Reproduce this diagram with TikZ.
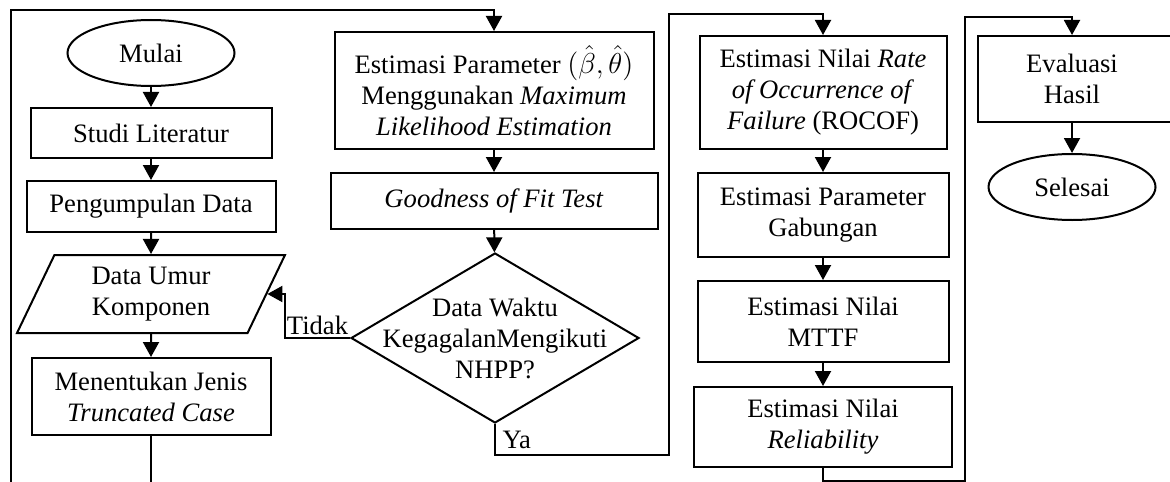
\documentclass[tikz,border=0pt]{standalone}
\usepackage{fontspec}
\setmainfont{Liberation Serif}
\usetikzlibrary{arrows.meta}
\usetikzlibrary{shapes.geometric}

\begin{document}
\begin{tikzpicture}[x=0.5pt,y=-0.5pt,
  every node/.style={font=\fontsize{13.3}{15.5}\selectfont, align=center},
  box/.style={draw, line width=1pt, rectangle, inner sep=2pt},
  term/.style={draw, line width=1pt, ellipse, minimum width=83.5pt, minimum height=33pt, inner sep=0pt},
  io/.style={draw, line width=1pt, trapezium, trapezium left angle=55.3, trapezium right angle=124.7,
    trapezium stretches body, minimum width=134pt, minimum height=39pt, inner sep=0pt},
  decision/.style={draw, line width=1pt, diamond, minimum width=144pt, minimum height=85pt, inner sep=0pt},
  flow/.style={line width=1pt, -{Triangle[length=7.5pt,width=8pt]}}]
  \useasboundingbox (0,0) rectangle (1170,481);
  \clip (0,0) rectangle (1170,481);

  \node[term] (mulai) at (151,53) {Mulai};
  \node[box, minimum width=120.5pt, minimum height=25pt] (studi) at (151,133) {Studi Literatur};
  \node[box, minimum width=124.5pt, minimum height=25.5pt] (kumpul) at (151,206.5) {Pengumpulan Data};
  \node[io] (umur) at (151,294) {Data Umur\\Komponen};
  \node[box, minimum width=119.5pt, minimum height=38.5pt] (jenis) at (151,396.5) {Menentukan Jenis\\\textit{Truncated Case}};

  \node[box, minimum width=159.5pt, minimum height=58.5pt] (mle) at (494,90.5)
    {Estimasi Parameter $(\hat{\beta},\hat{\theta})$\\Menggunakan \textit{Maximum}\\\textit{Likelihood Estimation}};
  \node[box, minimum width=163.5pt, minimum height=28pt] (gof) at (494,201) {\textit{Goodness of Fit Test}};
  \node[decision] (cek) at (495,338) {};
  \node (cektxt) at (cek) {Data Waktu\\KegagalanMengikuti\\NHPP?};

  \node[box, minimum width=123.5pt, minimum height=56.5pt] (rocof) at (823,92.5)
    {Estimasi Nilai \textit{Rate}\\\textit{of Occurrence of}\\\textit{Failure} (ROCOF)};
  \node[box, minimum width=125.5pt, minimum height=42pt] (gabung) at (823,215) {Estimasi Parameter\\Gabungan};
  \node[box, minimum width=125.5pt, minimum height=40.5pt] (mttf) at (823,321.5) {Estimasi Nilai\\MTTF};
  \node[box, minimum width=129pt, minimum height=40pt] (reli) at (823,427) {Estimasi Nilai\\\textit{Reliability}};

  \node[box, minimum width=103pt, minimum height=43pt] (eval) at (1081,79) {};
  \node (evaltxt) at (1072,79) {Evaluasi\\Hasil};
  \node[term] (selesai) at (1072,187) {Selesai};

  \coordinate (bl) at (11,500);
  \coordinate (tl) at (11,10);
  \coordinate (ya) at (669,14);
  \coordinate (yb) at (965,17);

  \draw[flow] (mulai) -- (studi);
  \draw[flow] (studi) -- (kumpul);
  \draw[flow] (kumpul) -- (umur);
  \draw[flow] (umur) -- (jenis);
  \draw[flow] (jenis.south) |- (bl) -- (tl) -| (mle.north);
  \draw[flow] (mle) -- (gof);
  \draw[flow] (gof) -- (cek);
  \draw[flow] (cek.west) -- node[above, inner sep=1pt] (tidak) {Tidak} ++(-65,0) |- (umur.east);
  \draw[flow] (cek.south) -- node[right] (yalbl) {Ya} ++(0,31) -| (ya) -| (rocof.north);
  \draw[flow] (rocof) -- (gabung);
  \draw[flow] (gabung) -- (mttf);
  \draw[flow] (mttf) -- (reli);
  \draw[flow] (reli.south) -- ++(0,13) -| (yb) -| (eval.north -| selesai);
  \draw[flow] (eval.south -| selesai) -- (selesai);
\end{tikzpicture}
\end{document}
